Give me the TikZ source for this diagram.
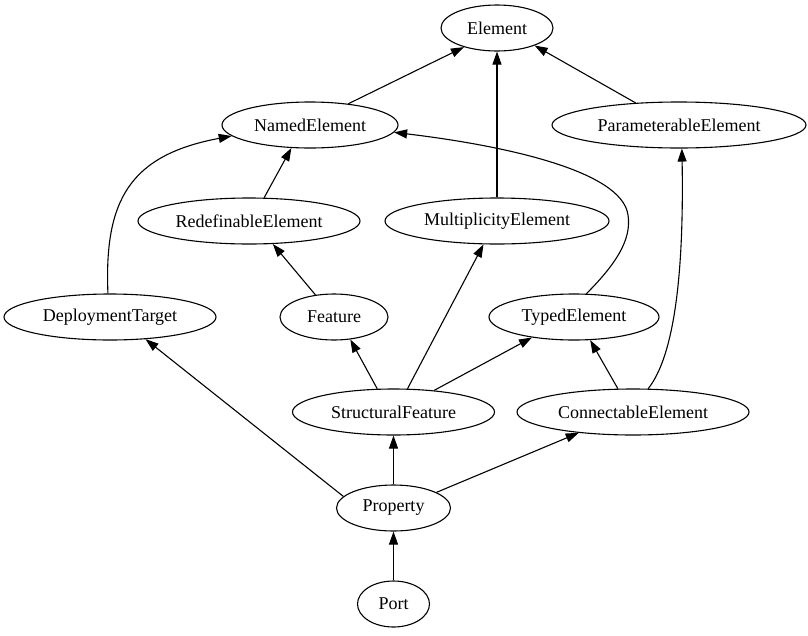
\documentclass[tikz,border=0pt]{standalone}
\usepackage{fontspec}
\setmainfont{Liberation Serif}
\usetikzlibrary{shapes.geometric,arrows.meta}
\newcommand\lbl[1]{\makebox[0pt]{#1}}
\begin{document}
\begin{tikzpicture}[x=1pt,y=-1pt,
  el/.style={ellipse, draw, line width=1.1pt, inner sep=0pt, minimum height=46pt,
    font=\fontsize{18}{20}\selectfont},
  arr/.style={line width=1.1pt, -{Triangle[length=13pt,width=9pt]}}]
\useasboundingbox (0,0) rectangle (808,635);
\node[el, minimum width=112pt] (E) at (497,28) {\lbl{Element}};
\node[el, minimum width=176pt] (NE) at (310,125) {\lbl{NamedElement}};
\node[el, minimum width=254pt] (PE) at (679,125) {\lbl{ParameterableElement}};
\node[el, minimum width=222pt] (RE) at (249,221) {\lbl{RedefinableElement}};
\node[el, minimum width=224pt] (ME) at (497,221) {\lbl{MultiplicityElement}};
\node[el, minimum width=212pt] (DT) at (110,317) {\lbl{DeploymentTarget}};
\node[el, minimum width=108pt] (F) at (334,317) {\lbl{Feature}};
\node[el, minimum width=170pt] (TE) at (574,317) {\lbl{TypedElement}};
\node[el, minimum width=202pt] (SF) at (393.5,412) {\lbl{StructuralFeature}};
\node[el, minimum width=232pt] (CE) at (633,412) {\lbl{ConnectableElement}};
\node[el, minimum width=114pt] (P) at (393.5,508) {\lbl{Property}};
\node[el, minimum width=72pt] (Po) at (393.5,604) {\lbl{Port}};

\draw[arr] (NE.29) -- (E.210);
\draw[arr] (PE.153) -- (E.335);
\draw[arr] (ME.north) -- (E.south);
\draw[arr] (RE.57) -- (NE.231);
\draw[arr] (DT.95) .. controls (104,200) and (130,155) .. (NE.188);
\draw[arr] (TE.62) .. controls (615,265) and (632,240) .. (628,215)
  .. controls (622,170) and (500,145) .. (NE.355);
\draw[arr] (F.130) -- (RE.316);
\draw[arr] (SF.125) -- (F.306);
\draw[arr] (SF.59) -- (ME.240);
\draw[arr] (SF.28) -- (TE.206);
\draw[arr] (CE.123) -- (TE.305);
\draw[arr] (CE.57) .. controls (675,355) and (684,270) .. (PE.277);
\draw[arr] (P.167) -- (DT.328);
\draw[arr] (P.north) -- (SF.south);
\draw[arr] (P.20) -- (CE.201);
\draw[arr] (Po.north) -- (P.south);
\end{tikzpicture}
\end{document}
